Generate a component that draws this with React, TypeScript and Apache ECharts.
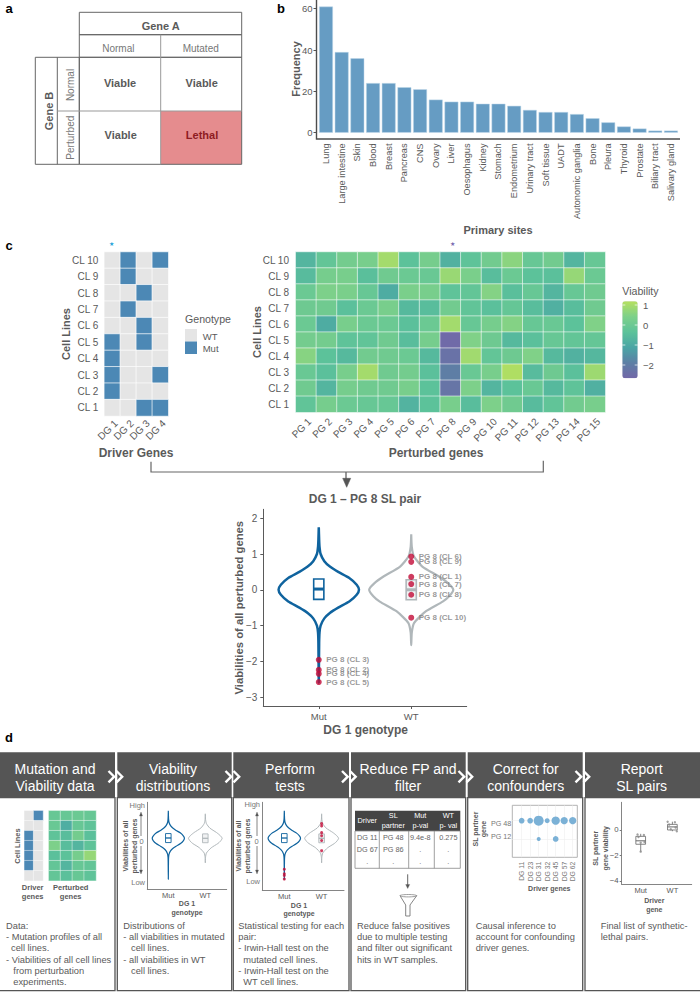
import React, { useEffect, useRef } from "react";
import * as echarts from "echarts";

const FF = "'Liberation Sans', Arial, sans-serif";
const GREY = "#5a5a5a";
const MUT = "#0f639e";
const WT = "#b0b7ba";
const RED = "#c20b37";

// ---- panel b
const sites = ["Lung","Large intestine","Skin","Blood","Breast","Pancreas","CNS","Ovary","Liver","Oesophagus","Kidney","Stomach","Endometrium","Urinary tract","Soft tissue","UADT","Autonomic ganglia","Bone","Pleura","Thyroid","Prostate","Biliary tract","Salivary gland"];
const siteFreq = [61,39,36,24,24,22,21,16,15,15,14,14,13,11,10,10,9,7,5,3,2,1,1];

// ---- panel c
const cellLines = ["CL 1","CL 2","CL 3","CL 4","CL 5","CL 6","CL 7","CL 8","CL 9","CL 10"];
const driverGenes = ["DG 1","DG 2","DG 3","DG 4"];
const perturbedGenes = ["PG 1","PG 2","PG 3","PG 4","PG 5","PG 6","PG 7","PG 8","PG 9","PG 10","PG 11","PG 12","PG 13","PG 14","PG 15"];
// rows listed from CL 10 down to CL 1
const genotypeRows = [
  [0,1,0,1],[0,1,0,0],[0,0,1,0],[0,1,0,0],[0,0,1,0],
  [1,0,1,0],[1,0,0,0],[1,0,0,1],[1,0,0,0],[0,0,1,1],
];
const viabilityRows = [
  [-0.7,-0.2,0.2,0.3,0.95,-0.35,0.25,-0.8,-0.3,0.15,0.6,-0.1,0.15,-0.7,-0.1],
  [-0.55,0.25,0.3,-0.45,0.1,0,-0.05,0.8,0.35,-0.5,0,-0.35,-0.4,0.75,0],
  [0,0.4,0.35,-0.1,-0.95,0.35,0.3,-0.3,-0.2,0.5,-0.45,-0.1,-0.7,-0.1,0.1],
  [0.05,0.1,-0.4,0,0.3,-0.6,-0.5,0.15,-0.25,-0.4,-0.15,-0.5,-0.85,-0.5,0.1],
  [0,-0.95,0.3,0,0,-0.4,0,0.93,-0.1,0.25,0.5,-0.1,-0.05,-0.35,0.45],
  [0.2,0.2,-0.3,-0.25,0.1,-0.5,0.25,-2.6,0.45,0.05,-0.6,-0.4,-0.1,-0.2,-0.15],
  [0.55,-0.35,-0.6,0.15,0.1,0,-0.6,-2.35,0.9,-0.2,0.05,0.45,-0.6,-0.8,-0.65],
  [-0.05,-0.4,0.3,0.95,0.1,0.2,-0.4,-1.95,-0.05,0.3,1.1,-0.55,0.05,-0.4,0.85],
  [0.1,-0.7,0.25,0.1,0.1,0.3,-0.35,-2.25,0.4,-0.7,-0.35,-0.05,-0.6,-0.3,-0.85],
  [-0.25,0.25,0,-0.1,-0.1,-0.75,-0.35,0.3,-0.5,0.4,0.1,-0.55,-0.25,0.15,0.3],
];
const viabilityTicks = [1,0,-1,-2];

// ---- violins: levels and half widths
const mutLevels = [1.75,1.4,1.2,1.0,0.8,0.65,0.5,0.33,0.14,0,-0.14,-0.33,-0.5,-0.65,-0.8,-1.0,-1.2,-1.5,-2.6];
const mutWidths = [0,0.004,0.008,0.02,0.06,0.12,0.21,0.33,0.41,0.435,0.41,0.33,0.21,0.12,0.06,0.02,0.008,0.004,0];
const wtLevels = [1.55,1.2,0.93,0.65,0.37,0.18,0,-0.18,-0.33,-0.6,-0.93,-1.2,-1.55];
const wtWidths = [0,0.006,0.03,0.12,0.3,0.4,0.455,0.41,0.34,0.16,0.03,0.006,0];
const mutBox = [1,-0.27,0.02,0.3];
const wtBox = [2,-0.28,0,0.28];
const mutPoints = [[-1.96,"CL 3"],[-2.24,"CL 2"],[-2.35,"CL 4"],[-2.58,"CL 5"]];
const wtPoints = [[0.93,"CL 6"],[0.78,"CL 9"],[0.36,"CL 1"],[0.16,"CL 7"],[-0.14,"CL 8"],[-0.78,"CL 10"]];
const genotypeTicks = [1,2];
const genotypeNames = ["Mut","WT"];
const violinYTicks = [-3,-2,-1,0,1,2];

// ---- panel d
const miniDriver = [[0,1],[0,0],[1,0],[1,0],[1,0],[1,0],[0,0]];
const miniViability = [
  [-0.1,-0.1,0,-0.1],[-0.05,-0.9,-0.1,-0.3],[-0.3,-0.5,0.2,-0.4],[0.4,-0.5,-0.7,-0.3],
  [-0.4,-0.35,0.25,0.75],[-0.2,-0.7,-0.1,-0.2],[-0.2,-0.4,-0.1,-0.3],
];
const confDrivers = ["DG 11","DG 23","DG 31","DG 32","DG 45","DG 57","DG 62"];
const confBubbles = [[1,2,5.7],[2,2,5.7],[3,2,10],[4,2,5],[5,2,8.3],[6,2,7.3],[7,2,7.3],[3,1,4],[5,1,5.7]];
const reportBoxes = [[1,-1.12,-0.85,-0.5,-1.7,-0.3],[2,0,0.24,0.44,-0.1,0.65]];
const reportPoints = [[0.9,-0.35],[1.1,-0.4],[0.93,-0.55],[1.12,-0.95],[1,-1.0],[1,-1.7],[1.85,0.65],[2.08,0.6],[1.9,0.42],[2.1,0.2],[1.95,0.06],[2.14,-0.1]];
const reportTicks = [-4,-2,0];
const tableHead = [["Driver"],["SL","partner"],["Mut","p-val"],["WT","p- val"]];
const tableRows = [["DG 11","PG 48","9.4e-8","0.275"],["DG 67","PG 86",".","."],[".",".",".","."]];
const headerTitles = [["Mutation and","Viability data"],["Viability","distributions"],["Perform","tests"],["Reduce FP and","filter"],["Correct for","confounders"],["Report","SL pairs"]];

const T = (text: string, x: number, y: number, o: any = {}) => ({
  type: "text", x, y, rotation: o.rot || 0, silent: true, z: o.z || 5,
  style: { text, fontFamily: FF, fontSize: o.size || 10, fontWeight: o.bold ? "bold" : "normal", fill: o.color || GREY, align: o.align || "center", verticalAlign: "middle" },
});
const L = (x1: number, y1: number, x2: number, y2: number, c = GREY, w = 1, z = 5) => ({
  type: "line", silent: true, z, shape: { x1, y1, x2, y2 }, style: { stroke: c, lineWidth: w },
});
const R = (x: number, y: number, w: number, h: number, fill: string, stroke = "none", lw = 1) => ({
  type: "rect", silent: true, z: 1, shape: { x, y, width: w, height: h }, style: { fill, stroke, lineWidth: lw },
});
const P = (points: number[][], stroke: string, w: number, fill = "none", type = "polyline") => ({
  type, silent: true, z: 6, shape: { points }, style: { stroke, lineWidth: w, fill },
});
const UP = Math.PI / 2;

function buildGraphic() {
  const g: any[] = [];
  // panel letters
  g.push(T("a", 9, 8, { bold: true, size: 13, color: "#000" }), T("b", 281, 8, { bold: true, size: 13, color: "#000" }), T("c", 9, 245, { bold: true, size: 13, color: "#000" }), T("d", 9, 737, { bold: true, size: 13, color: "#000" }));

  // panel a
  g.push(R(160.7, 111, 81, 53.3, "#e58c8e"));
  const tc = "#666";
  g.push(R(79.3, 12.3, 162.4, 22.4, "none", tc, 1), R(79.3, 34.7, 162.4, 22.6, "none", tc, 1), R(79.3, 57.3, 162.4, 107, "none", tc, 1), R(35.3, 57.3, 44, 107, "none", tc, 1));
  g.push(L(57.3, 57.3, 57.3, 164.3, tc, 1), L(160.7, 34.7, 160.7, 164.3, "#999", 1), L(57.3, 111, 241.7, 111, "#999", 1));
  g.push(T("Gene A", 160.7, 25.7, { bold: true, size: 11 }), T("Normal", 118.3, 48.7, { size: 10, color: "#777" }), T("Mutated", 200.7, 48.7, { size: 10, color: "#777" }));
  g.push(T("Gene B", 48.7, 111, { bold: true, size: 11, rot: UP }), T("Normal", 70.3, 85, { size: 10, color: "#777", rot: UP }), T("Perturbed", 70.3, 137.7, { size: 10, color: "#777", rot: UP }));
  g.push(T("Viable", 120, 83, { bold: true, size: 11 }), T("Viable", 201.7, 83, { bold: true, size: 11 }), T("Viable", 120.7, 135, { bold: true, size: 11 }), T("Lethal", 202, 135, { bold: true, size: 11, color: "#8e1c23" }));

  // panel b
  g.push(P([[316.5, 0], [316.5, 139], [680, 139]], "#4d4d4d", 1.4));
  g.push(T("Frequency", 295.7, 69, { bold: true, size: 11, rot: UP }), T("Primary sites", 498, 229.5, { bold: true, size: 11 }));

  // panel c left
  g.push(T("★", 111, 244, { size: 6, color: "#2aa3d8" }), T("★", 452, 244, { size: 6, color: "#7a6bb0" }));
  g.push(T("Cell Lines", 66, 334, { bold: true, size: 11, rot: UP }), T("Driver Genes", 136, 453, { bold: true, size: 12 }));
  g.push(T("Genotype", 185, 319, { size: 10.6, align: "left" }), R(185, 329, 12, 12.5, "#e5e5e5"), R(185, 341.5, 12, 12.5, "#4c88b5"));
  g.push(T("WT", 202.7, 336, { size: 9.5, align: "left" }), T("Mut", 202.7, 348.3, { size: 9.5, align: "left" }));

  // panel c right
  g.push(T("Cell Lines", 256.7, 332, { bold: true, size: 11, rot: UP }), T("Perturbed genes", 436, 453, { bold: true, size: 12 }));
  g.push(T("Viability", 622.3, 291, { size: 10.6, align: "left" }));
  viabilityTicks.forEach((v) => {
    const y = 325 - v * 20;
    g.push(T(v < 0 ? "\u2212" + Math.abs(v) : String(v), 643, y, { size: 9.5, align: "left" }));
    g.push(L(622.3, y, 625.3, y, "rgba(255,255,255,0.7)", 1, 12), L(634.7, y, 637.7, y, "rgba(255,255,255,0.7)", 1, 12));
  });

  // bracket and arrow
  g.push(P([[151, 461.7], [151, 472], [543.3, 472], [543.3, 460.7]], "#666", 1.2));
  g.push(L(346, 472, 346, 481, "#555", 1.2), P([[342.7, 478.3], [350.7, 478.3], [346.7, 487.3]], "#555", 0.5, "#555", "polygon"));
  g.push(T("DG 1 \u2013 PG 8 SL pair", 365, 499, { bold: true, size: 12 }));
  g.push(T("Viabilities of all perturbed genes", 239, 607.7, { bold: true, size: 11.3, rot: UP }), T("DG 1 genotype", 365.7, 730, { bold: true, size: 12 }));

  // panel d frames
  const panels = [[-2, 115], [117.3, 231.7], [233.3, 349], [351, 465.7], [467.7, 582.7], [585, 702]];
  const centers = [55, 173, 290, 408, 525.7, 641.7];
  panels.forEach(([a, b], i) => {
    g.push(R(a, 752.3, b - a, 45.4, "#555555"), R(a, 797.7, b - a, 193, "none", "#555555", 1.3));
    g.push(T(headerTitles[i][0], centers[i], 768.7, { size: 14, color: "#fff", z: 7 }), T(headerTitles[i][1], centers[i], 785.7, { size: 14, color: "#fff", z: 7 }));
  });
  [108.5, 225.5, 342, 458.5, 575.5].forEach((x) => {
    [0, 8].forEach((d) => g.push({ ...P([[x + d, 771], [x + d + 5.7, 776.7], [x + d, 782.3]], "#fff", 2.4), z: 8 }));
  });

  // d1
  g.push(T("Cell Lines", 17.3, 846, { bold: true, size: 7.5, rot: UP }));
  g.push(T("Driver", 32.7, 887.3, { bold: true, size: 7.5 }), T("genes", 32.7, 896.3, { bold: true, size: 7.5 }), T("Perturbed", 70.7, 887.3, { bold: true, size: 7.5 }), T("genes", 70.7, 896.3, { bold: true, size: 7.5 }));

  // mini violin decoration
  const miniAxis = (titleX: number, labelX: number, arrowX: number, titleC: number, yTitle: number[], highY: number, lowY: number, zeroX: number, zeroY: number) => {
    g.push(T("Viabilities of all", titleX, 846, { bold: true, size: 7, rot: UP }), T("perturbed genes", titleX + 9, 846, { bold: true, size: 7, rot: UP }));
    g.push(T("High", labelX, highY, { size: 7.5, align: "right", color: "#777" }), T("Low", labelX, lowY, { size: 7.5, align: "right", color: "#777" }), T("0", zeroX, zeroY, { size: 7.5, color: "#777" }));
    g.push(L(arrowX, 814, arrowX, 836, "#666", 0.8), L(arrowX, 846, arrowX, 872, "#666", 0.8));
    g.push(P([[arrowX - 1.5, 816], [arrowX + 1.5, 816], [arrowX, 812]], "#555", 0.3, "#555", "polygon"), P([[arrowX - 1.5, 870], [arrowX + 1.5, 870], [arrowX, 874]], "#555", 0.3, "#555", "polygon"));
    g.push(T("DG 1", titleC, yTitle[0], { bold: true, size: 7 }), T("genotype", titleC, yTitle[1], { bold: true, size: 7 }));
  };
  miniAxis(125, 145, 141, 187, [903.3, 912.7], 805.3, 882.7, 141.7, 841.5);
  miniAxis(238.3, 260, 257, 299, [905, 913.3], 804, 881, 256.7, 841);

  // body text
  const body = (x: number, lines: [string, number][]) => lines.forEach(([s, dx], i) => g.push(T(s, x + dx, 926 + i * 11.2, { size: 9.3, align: "left" })));
  body(6, [["Data:", 0], ["- Mutation profiles of all", 0], ["cell lines.", 5], ["- Viabilities of all cell lines", 0], ["from perturbation", 7.3], ["experiments.", 7.3]]);
  body(123.3, [["Distributions of", 0], ["- all viabilities in mutated", 0], ["cell lines.", 7.7], ["- all viabilities in WT", 0], ["cell lines.", 7.7]]);
  body(238.3, [["Statistical testing for each", 0], ["pair:", 0], ["- Irwin-Hall test on the", 0], ["mutated cell lines.", 5], ["- Irwin-Hall test on the", 0], ["WT cell lines.", 5]]);
  body(357, [["Reduce false positives", 0], ["due to multiple testing", 0], ["and filter out significant", 0], ["hits in WT samples.", 0]]);
  body(475.7, [["Causal inference to", 0], ["account for confounding", 0], ["driver genes.", 0]]);
  body(600.7, [["Final list of synthetic-", 0], ["lethal pairs.", 0]]);

  // d4 table
  g.push(R(355, 810.7, 105.3, 20.3, "#444"), R(355, 831, 105.3, 37.3, "none", "#888", 0.8));
  [379.3, 408.7, 434.3].forEach((x) => g.push(L(x, 831, x, 868.3, "#888", 0.8)));
  const colC = [367.3, 393.3, 420.3, 448.3];
  tableHead.forEach((h, i) => {
    if (h.length === 1) g.push(T(h[0], colC[i], 820, { size: 7.3, color: "#fff" }));
    else g.push(T(h[0], colC[i], 815.7, { size: 7.3, color: "#fff" }), T(h[1], colC[i], 825, { size: 7.3, color: "#fff" }));
  });
  tableRows.forEach((row, r) => row.forEach((s, i) => g.push(T(s, colC[i], 837.3 + r * 11.9, { size: 7.3, color: "#666" }))));
  g.push(L(407.7, 874.3, 407.7, 885, "#555", 0.9), P([[405.7, 884.5], [409.7, 884.5], [407.7, 888.5]], "#555", 0.3, "#555", "polygon"));
  g.push(P([[400, 895.7], [416.7, 895.7], [410, 905], [410, 916], [405.7, 916], [405.7, 905]], "#777", 0.9, "#fff", "polygon"));
  g.push({ type: "ellipse", silent: true, z: 7, shape: { cx: 408.3, cy: 895.7, rx: 8.3, ry: 1.2 }, style: { stroke: "#777", lineWidth: 0.7, fill: "#fff" } });

  // d5
  g.push(T("SL partner", 475, 829, { bold: true, size: 7, rot: UP }), T("gene", 483.7, 829, { bold: true, size: 7, rot: UP }), T("Driver genes", 549.3, 888, { bold: true, size: 7 }));

  // d6
  g.push(T("SL partner", 595.7, 848.3, { bold: true, size: 7, rot: UP }), T("gene viability", 605, 848.3, { bold: true, size: 7, rot: UP }));
  g.push(T("Driver", 654.3, 900, { bold: true, size: 7 }), T("gene", 654.3, 909, { bold: true, size: 7 }));
  return g;
}

const violinLine = (center: number, levels: number[], widths: number[]) => [
  ...levels.map((y, i) => [center - widths[i], y]),
  ...levels.map((y, i) => [center + widths[i], y]).reverse(),
  [center - widths[0], levels[0]],
];

const boxSeries = (gridIndex: number, data: number[][], color: string, halfWidth: number, lw: number, medW: number, fill: string) => ({
  type: "custom", xAxisIndex: gridIndex, yAxisIndex: gridIndex, z: 3, silent: true, data,
  encode: { x: 0, y: [1, 2, 3] },
  renderItem: (_p: any, api: any) => {
    const x = api.value(0);
    const a = api.coord([x - halfWidth, api.value(3)]);
    const b = api.coord([x + halfWidth, api.value(1)]);
    const m1 = api.coord([x - halfWidth, api.value(2)]);
    const m2 = api.coord([x + halfWidth, api.value(2)]);
    const children: any[] = [];
    const lo = api.value(4), hi = api.value(5);
    if (!isNaN(lo) && !isNaN(hi)) {
      const w1 = api.coord([x, lo]);
      const w2 = api.coord([x, hi]);
      children.push({ type: "line", shape: { x1: w1[0], y1: w1[1], x2: w2[0], y2: w2[1] }, style: { stroke: color, lineWidth: lw } });
    }
    children.push({ type: "rect", shape: { x: a[0], y: a[1], width: b[0] - a[0], height: b[1] - a[1] }, style: { fill, stroke: color, lineWidth: lw } });
    children.push({ type: "line", shape: { x1: m1[0], y1: m1[1], x2: m2[0], y2: m2[1] }, style: { stroke: color, lineWidth: medW } });
    return { type: "group", children };
  },
});

function buildOption() {
  const grids: any[] = [];
  const xAxes: any[] = [];
  const yAxes: any[] = [];
  const series: any[] = [];
  const addGrid = (left: number, top: number, width: number, height: number, x: any, y: any, extra: any = {}) => {
    const i = grids.length;
    grids.push({ left, top, width, height, ...extra });
    xAxes.push({ gridIndex: i, ...x });
    yAxes.push({ gridIndex: i, ...y });
    return i;
  };
  const axisLine = (c = GREY, w = 1) => ({ show: true, onZero: false, lineStyle: { color: c, width: w } });
  const lab = (size: number, o: any = {}) => ({ fontSize: size, color: GREY, fontFamily: FF, ...o });
  const minus = (v: number) => (v < 0 ? "\u2212" + Math.abs(v) : String(v));
  const genotypeFmt = (v: number) => genotypeNames[v - 1];

  // panel b
  const gb = addGrid(318.16, 0, 360.64, 139,
    { type: "category", data: sites, axisLine: { show: false, onZero: false }, axisTick: { show: false }, axisLabel: lab(9.2, { rotate: 90, interval: 0, margin: 4.5 }) },
    { type: "value", min: -3.05, max: 64.2, offset: 1.66, axisLine: { show: false, onZero: false }, splitLine: { show: false }, axisTick: { show: true, length: 3, customValues: [0, 20, 40, 60], lineStyle: { color: "#555" } }, axisLabel: lab(9.5, { customValues: [0, 20, 40, 60], margin: 4 }) });
  series.push({ type: "bar", xAxisIndex: gb, yAxisIndex: gb, data: siteFreq, barWidth: 13.8, itemStyle: { color: "#669cc3", borderColor: "#bcd6e8", borderWidth: 0.5 } });

  // panel c left
  const gl = addGrid(104.3, 252, 64, 164,
    { type: "category", data: driverGenes, axisLine: { show: false }, axisTick: { show: false }, axisLabel: lab(10, { rotate: 45, interval: 0, margin: 2, verticalAlign: "top" }) },
    { type: "category", data: cellLines, axisLine: { show: false }, axisTick: { show: false }, axisLabel: lab(10, { interval: 0, margin: 6 }) });
  const hm1 = series.length;
  const toCells = (rows: number[][]) => rows.flatMap((row, r) => row.map((v, c) => [c, rows.length - 1 - r, v]));
  series.push({ type: "heatmap", xAxisIndex: gl, yAxisIndex: gl, data: toCells(genotypeRows), itemStyle: { borderColor: "rgba(255,255,255,0.85)", borderWidth: 0.8 } });

  // panel c right
  const gr = addGrid(295.7, 252, 309.6, 160.3,
    { type: "category", data: perturbedGenes, axisLine: { show: false }, axisTick: { show: false }, axisLabel: lab(10, { rotate: 45, interval: 0, margin: 4, verticalAlign: "top" }) },
    { type: "category", data: cellLines, axisLine: { show: false }, axisTick: { show: false }, axisLabel: lab(10, { interval: 0, margin: 6.7 }) });
  const hm2 = series.length;
  series.push({ type: "heatmap", xAxisIndex: gr, yAxisIndex: gr, data: toCells(viabilityRows), itemStyle: { borderColor: "rgba(255,255,255,0.7)", borderWidth: 0.8 } });

  // violin
  const gv = addGrid(263.3, 509.3, 203.4, 196.7,
    { type: "value", min: 0.4, max: 2.6, splitLine: { show: false }, axisLine: axisLine(), axisTick: { show: true, length: 3, customValues: genotypeTicks, lineStyle: { color: GREY } }, axisLabel: lab(9.5, { customValues: genotypeTicks, formatter: genotypeFmt, margin: 5 }) },
    { type: "value", min: -3.25, max: 2.25, splitLine: { show: false }, axisLine: axisLine(), axisTick: { show: true, length: 3, customValues: violinYTicks, lineStyle: { color: GREY } }, axisLabel: lab(10, { customValues: violinYTicks, formatter: minus, margin: 6 }) });
  const addViolins = (gi: number, lw: number, wtLw: number, boxHalf: number, boxLw: number, medW: number) => {
    series.push({ type: "line", xAxisIndex: gi, yAxisIndex: gi, z: 2, data: violinLine(1, mutLevels, mutWidths), symbol: "none", smooth: 0.2, clip: false, silent: true, lineStyle: { color: MUT, width: lw } });
    series.push({ type: "line", xAxisIndex: gi, yAxisIndex: gi, z: 2, data: violinLine(2, wtLevels, wtWidths), symbol: "none", smooth: 0.2, clip: false, silent: true, lineStyle: { color: WT, width: wtLw } });
    series.push(boxSeries(gi, [mutBox], MUT, boxHalf, boxLw, medW, "#fff"));
    series.push(boxSeries(gi, [wtBox], WT, boxHalf, boxLw, medW, "rgba(200,204,206,0.25)"));
  };
  addViolins(gv, 2.5, 2.2, 0.055, 1.6, 3);
  const pointLabel = { show: true, position: "right", distance: 4.5, fontSize: 8, fontWeight: "bold", color: "#808080", fontFamily: FF, formatter: (p: any) => "PG 8 (" + p.data[2] + ")" };
  series.push({ type: "scatter", xAxisIndex: gv, yAxisIndex: gv, z: 5, symbolSize: 6, itemStyle: { color: RED }, label: pointLabel, labelLayout: { hideOverlap: false }, data: mutPoints.map((p) => [1, p[0], p[1]]) });
  series.push({ type: "scatter", xAxisIndex: gv, yAxisIndex: gv, z: 5, symbolSize: 6, itemStyle: { color: RED }, label: pointLabel, labelLayout: { hideOverlap: false }, data: wtPoints.map((p) => [2, p[0], p[1]]) });

  // d1
  const noAxis = { type: "category", show: false };
  const gd1a = addGrid(24.3, 810.7, 18.7, 70, { ...noAxis, data: ["1", "2"] }, { ...noAxis, data: miniDriver.map((_, i) => String(i)) });
  const hm3 = series.length;
  series.push({ type: "heatmap", xAxisIndex: gd1a, yAxisIndex: gd1a, data: toCells(miniDriver), itemStyle: { borderColor: "rgba(255,255,255,0.7)", borderWidth: 0.6 } });
  const gd1b = addGrid(48.7, 810.7, 47.3, 70, { ...noAxis, data: ["1", "2", "3", "4"] }, { ...noAxis, data: miniViability.map((_, i) => String(i)) });
  const hm4 = series.length;
  series.push({ type: "heatmap", xAxisIndex: gd1b, yAxisIndex: gd1b, data: toCells(miniViability), itemStyle: { borderColor: "rgba(255,255,255,0.7)", borderWidth: 0.6 } });

  // d2 / d3 mini violins
  const miniX = (min: number, max: number) => ({ type: "value", min, max, splitLine: { show: false }, axisLine: axisLine("#777", 0.9), axisTick: { show: false, customValues: genotypeTicks }, axisLabel: lab(7.5, { customValues: genotypeTicks, formatter: genotypeFmt, margin: 2 }) });
  const miniY = (min: number, max: number) => ({ type: "value", min, max, splitLine: { show: false }, axisLine: axisLine("#777", 0.9), axisTick: { show: false }, axisLabel: { show: false } });
  const gd2 = addGrid(147.3, 802.3, 79.4, 86.7, miniX(0.432, 2.578), miniY(-3.21, 2.28));
  addViolins(gd2, 1.2, 1, 0.075, 0.9, 1.3);
  const gd3 = addGrid(262.3, 802.3, 81.7, 87.7, miniX(0.41, 2.6), miniY(-3.27, 2.28));
  addViolins(gd3, 1.2, 1, 0.075, 0.9, 1.3);
  series.push({ type: "scatter", xAxisIndex: gd3, yAxisIndex: gd3, z: 5, symbolSize: 3, itemStyle: { color: RED }, data: [...mutPoints.map((p) => [1, p[0]]), ...wtPoints.map((p) => [2, p[0]])] });

  // d5
  const confX = [1, 2, 3, 4, 5, 6, 7];
  const gd5 = addGrid(512.3, 805.3, 65, 52,
    { type: "value", min: -0.1, max: 7.54, splitLine: { show: true, lineStyle: { color: "#eeeeee", width: 0.6 } }, axisLine: { show: false }, axisTick: { show: false, customValues: confX }, axisLabel: lab(6.8, { color: "#777", rotate: 90, customValues: confX, formatter: (v: number) => confDrivers[v - 1], margin: 4.4 }) },
    { type: "value", min: 0, max: 2.84, splitLine: { show: true, lineStyle: { color: "#eeeeee", width: 0.6 } }, axisLine: { show: false }, axisTick: { show: false, customValues: [1, 2] }, axisLabel: lab(7.2, { color: "#777", customValues: [1.15, 1.86], formatter: (v: number) => (v > 1.5 ? "PG 48" : "PG 12"), margin: 1 }) },
    { show: true, borderColor: "#aaaaaa", borderWidth: 0.9 });
  series.push({ type: "scatter", xAxisIndex: gd5, yAxisIndex: gd5, data: confBubbles, symbolSize: (d: number[]) => d[2], itemStyle: { color: "#7bb1d6", opacity: 1 } });

  // d6
  const gd6 = addGrid(621.7, 802.3, 70, 82,
    { type: "value", min: 0.4, max: 2.61, splitLine: { show: false }, axisLine: axisLine("#777", 0.9), axisTick: { show: false, customValues: genotypeTicks }, axisLabel: lab(7.5, { customValues: genotypeTicks, formatter: genotypeFmt, margin: 2 }) },
    { type: "value", min: -4.26, max: 2.17, splitLine: { show: false }, axisLine: axisLine("#777", 0.9), axisTick: { show: true, length: 2, customValues: reportTicks, lineStyle: { color: "#777" } }, axisLabel: lab(7.8, { customValues: reportTicks, formatter: minus, margin: 3 }) });
  series.push(boxSeries(gd6, reportBoxes, "#666", 0.153, 0.8, 1, "#fff"));
  series.push({ type: "scatter", xAxisIndex: gd6, yAxisIndex: gd6, z: 5, symbolSize: 2.4, itemStyle: { color: "#8a8a8a" }, data: reportPoints });

  return {
    animation: false,
    backgroundColor: "#ffffff",
    textStyle: { fontFamily: FF },
    grid: grids,
    xAxis: xAxes,
    yAxis: yAxes,
    visualMap: [
      {
        type: "continuous", seriesIndex: [hm2, hm4], min: -2.67, max: 1.18, show: true, calculable: false, realtime: false,
        left: 622.3, top: 301.3, padding: 0, itemWidth: 15.4, itemHeight: 77, text: null, showLabel: false,
        inRange: { color: ["#7268a8", "#5d7fa5", "#4aa5a5", "#5cc29a", "#7dd08a", "#b5e05f"] },
      },
      {
        type: "piecewise", seriesIndex: [hm1, hm3], show: false, dimension: 2,
        pieces: [{ value: 0, color: "#e5e5e5" }, { value: 1, color: "#4c88b5" }],
      },
    ],
    graphic: { elements: buildGraphic() },
    series,
  };
}

export default function App() {
  const ref = useRef<HTMLDivElement>(null);
  useEffect(() => {
    if (!ref.current) return;
    const chart = echarts.init(ref.current, null, { renderer: "svg", width: 700, height: 992 });
    chart.setOption(buildOption() as any);
    return () => chart.dispose();
  }, []);
  return <div ref={ref} style={{ position: "absolute", left: 0, top: 0, width: 700, height: 992 }} />;
}
